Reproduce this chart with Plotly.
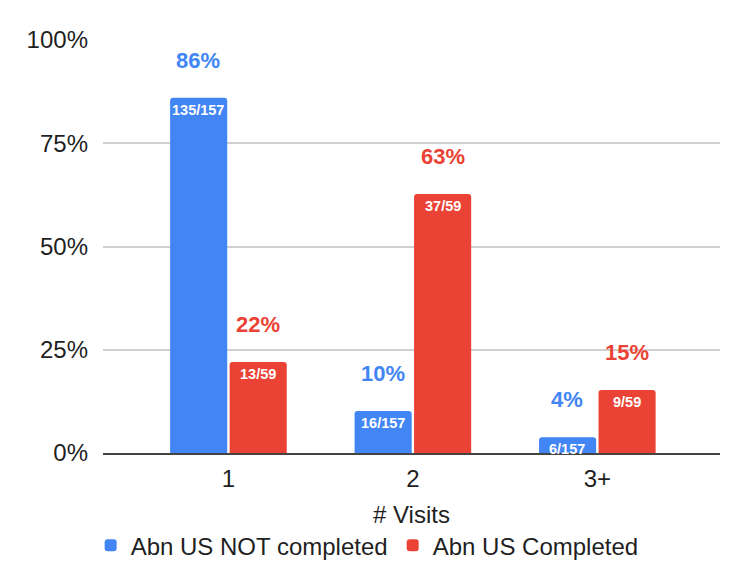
import plotly.graph_objects as go

categories = ["1", "2", "3+"]
not_completed_n = [135, 16, 6]
not_completed_total = 157
completed_n = [13, 37, 9]
completed_total = 59
series_names = ["Abn US NOT completed", "Abn US Completed"]
colors = ["#4285F4", "#EA4335"]
y_ticks = [0, 0.25, 0.5, 0.75, 1.0]
y_tick_labels = ["0%", "25%", "50%", "75%", "100%"]

series = [
    (series_names[0], [n / not_completed_total for n in not_completed_n],
     [f"{n}/{not_completed_total}" for n in not_completed_n], colors[0], -1),
    (series_names[1], [n / completed_total for n in completed_n],
     [f"{n}/{completed_total}" for n in completed_n], colors[1], 1),
]

FONT = "Liberation Sans, Arial, sans-serif"
TXT = "#1f1f1f"
fig = go.Figure()
annotations = []
bar_offset_px = 30
for name, vals, fracs, color, side in series:
    fig.add_trace(go.Bar(
        x=categories, y=vals, name=name, marker_color=color,
        marker_line_width=0,
        hoverinfo="skip",
    ))
    for i, (v, f) in enumerate(zip(vals, fracs)):
        annotations.append(dict(
            x=i, y=v, xref="x", yref="y", text=f"<b>{f}</b>", showarrow=False,
            xshift=side * bar_offset_px, yanchor="top", yshift=-2,
            font=dict(family=FONT, size=14.5, color="white"),
        ))
        annotations.append(dict(
            x=i, y=v, xref="x", yref="y", text=f"<b>{round(v * 100)}%</b>", showarrow=False,
            xshift=side * bar_offset_px, yanchor="bottom", yshift=23,
            font=dict(family=FONT, size=22, color=color),
        ))

fig.update_layout(
    width=750, height=563,
    margin=dict(l=103, r=30, t=40, b=110, autoexpand=False),
    paper_bgcolor="white", plot_bgcolor="white",
    barmode="group", bargap=0.355, bargroupgap=0.04,
    barcornerradius=3,
    font=dict(family=FONT, size=24, color=TXT),
    xaxis=dict(
        range=[-0.68, 2.665], showgrid=False, showline=True, linecolor="#444444",
        linewidth=1.5, ticks="", tickfont=dict(size=24, color=TXT),
        ticklabelstandoff=3,
        title=dict(text="# Visits", font=dict(size=24, color=TXT), standoff=16),
        fixedrange=True, automargin=False,
    ),
    yaxis=dict(
        range=[0, 1], tickvals=y_ticks, ticktext=y_tick_labels,
        showgrid=True, gridcolor="#D0D0D0", gridwidth=1.5, zeroline=False,
        showline=False, ticks="", ticklabelstandoff=14,
        tickfont=dict(size=24, color=TXT), automargin=False,
    ),
    legend=dict(
        orientation="h", x=-0.02, xanchor="left", y=-0.17, yanchor="top",
        font=dict(size=24, color=TXT), itemwidth=30, tracegroupgap=0,
    ),
    annotations=annotations,
)

fig.write_html("out.html")
